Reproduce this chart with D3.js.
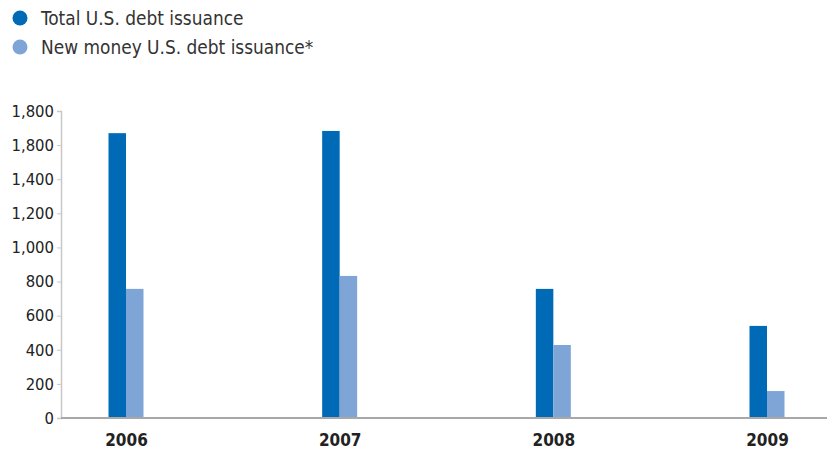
<!DOCTYPE html>
<html>
<head>
<meta charset="utf-8">
<script src="https://cdn.jsdelivr.net/npm/d3@7"></script>
<style>
  body { margin: 0; background: #fff; }
  text { font-family: "DejaVu Sans Condensed", "Liberation Sans", Arial, sans-serif; font-stretch: condensed; }
</style>
</head>
<body>
<div id="chart"></div>
<script>
var years = ["2006", "2007", "2008", "2009"];
var totalIssuance = [1670, 1683, 757, 540];
var newMoneyIssuance = [757, 833, 428, 158];
var seriesNames = ["Total U.S. debt issuance", "New money U.S. debt issuance*"];
var seriesColors = ["#006ab7", "#7fa5d7"];
// tick labels as printed in the original (second one repeats 1,800)
var tickValues = [0, 200, 400, 600, 800, 1000, 1200, 1400, 1600, 1800];
var tickLabels = ["0", "200", "400", "600", "800", "1,000", "1,200", "1,400", "1,800", "1,800"];

var width = 827, height = 452;

var svg = d3.select("#chart").append("svg")
            .attr("width", width)
            .attr("height", height);

// legend
var legend = svg.selectAll(".legend")
                .data(seriesNames)
                .enter()
                .append("g")
                .attr("transform", function(d, i) { return "translate(20," + (18 + i * 29) + ")"; });
legend.append("circle")
      .attr("r", 7.5)
      .attr("fill", function(d, i) { return seriesColors[i]; });
legend.append("text")
      .attr("x", 21)
      .attr("y", 7)
      .attr("font-size", 18.9)
      .attr("fill", "#333")
      .text(function(d) { return d; });

// scales
var x = d3.scalePoint()
          .domain(years)
          .range([126, 767]);

var y = d3.scaleLinear()
          .domain([0, 1800])
          .range([418, 111]);

var barW = 17.5;

// y axis
var yAxis = d3.axisLeft(y)
              .tickValues(tickValues)
              .tickSize(4)
              .tickFormat(function(d, i) { return tickLabels[i]; });
var gy = svg.append("g")
            .attr("transform", "translate(61,0)")
            .call(yAxis);
gy.select(".domain").attr("stroke", "#c8c8c8").attr("stroke-width", 1.5);
gy.selectAll(".tick line").attr("stroke", "#c8c8c8");
gy.selectAll(".tick text")
  .attr("font-size", 16.5)
  .attr("fill", "#222")
  .attr("x", -7);

// bars
var rows = years.map(function(yr, i) {
  return { year: yr, values: [totalIssuance[i], newMoneyIssuance[i]] };
});

var groups = svg.selectAll(".grp")
                .data(rows)
                .enter()
                .append("g");

groups.selectAll("rect")
      .data(function(d) { return d.values.map(function(v, k) { return { year: d.year, v: v, k: k }; }); })
      .enter()
      .append("rect")
      .attr("x", function(d) { return x(d.year) - barW + d.k * barW; })
      .attr("width", barW)
      .attr("y", function(d) { return y(d.v); })
      .attr("height", function(d) { return y(0) - y(d.v); })
      .attr("fill", function(d) { return seriesColors[d.k]; });

// x axis
var xAxis = d3.axisBottom(x).tickSize(0);
var gx = svg.append("g")
            .attr("transform", "translate(0,418)")
            .call(xAxis);
gx.select(".domain")
  .attr("d", "M61,0H827")
  .attr("stroke", "#a8a8a8")
  .attr("stroke-width", 2);
gx.selectAll(".tick text")
  .attr("font-size", 17)
  .attr("font-weight", "bold")
  .attr("fill", "#222")
  .attr("dy", 0)
  .attr("y", 28);
</script>
</body>
</html>
